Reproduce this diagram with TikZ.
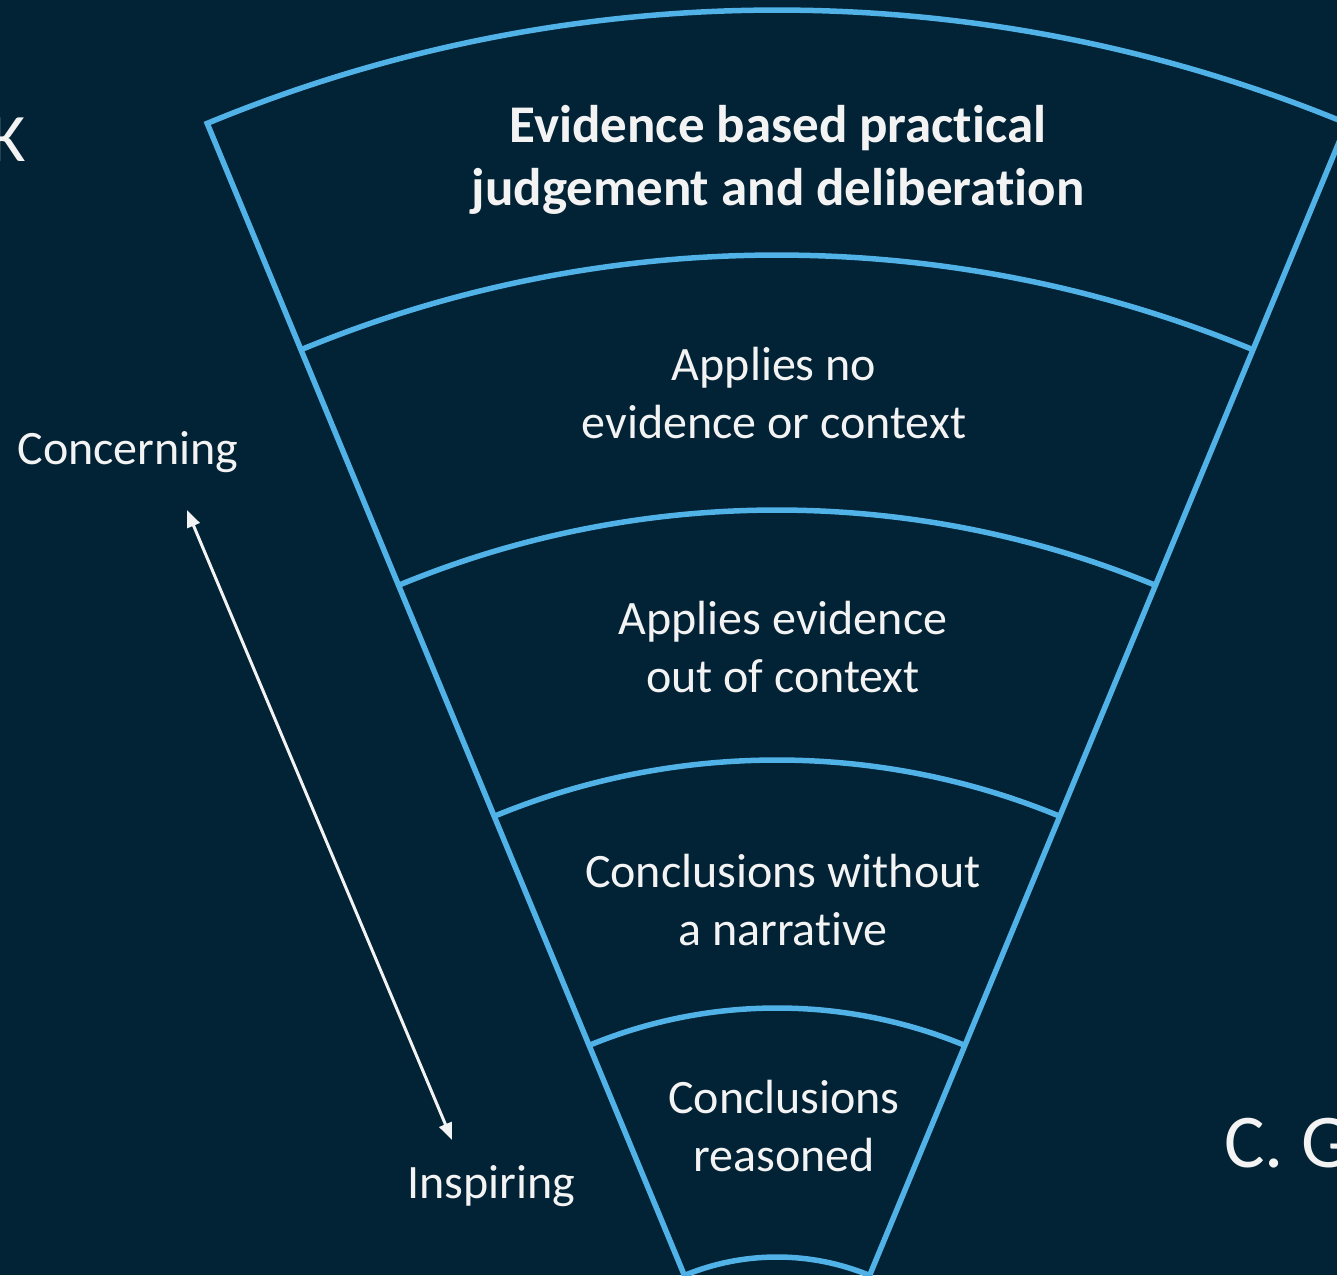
\documentclass[tikz,border=0pt]{standalone}
\usepackage{fontspec}
\setmainfont{Carlito}[Ligatures=NoCommon]
\usepackage{tikz}
\usetikzlibrary{arrows.meta}
\definecolor{slidebg}{RGB}{2,34,53}
\definecolor{fanblue}{RGB}{80,178,230}
\definecolor{slidetext}{RGB}{243,243,243}
\tikzset{>={Triangle[length=17pt,width=13pt]},
	band/.style={% outline of the fan and its rings
		draw=fanblue,
		line width=5.5pt,
		line join=miter
	},
	bandtext/.style={
		text=slidetext,
		align=center,
		inner sep=0pt,
		font=\fontsize{48}{57.5}\selectfont
	},
	sidetext/.style={
		text=slidetext,
		inner sep=0pt,
		font=\fontsize{48}{57.5}\selectfont
	}
}

\begin{document}
\begin{tikzpicture}[x=1pt,y=1pt]
	\useasboundingbox (-777,224) rectangle (560,1499);
	\fill[slidebg] (-777,224) rectangle (560,1499);
	\clip (-777,224) rectangle (560,1499);
	% the fan, apex at the origin
	\draw[band] (112.5:242pt) -- (112.5:1489pt)
		arc[start angle=112.5, end angle=67.5, radius=1489pt]
		-- (67.5:242pt)
		arc[start angle=67.5, end angle=112.5, radius=242pt] -- cycle;
	\foreach \r in {1244,989,739,491}
		\draw[band] (112.5:\r pt) arc[start angle=112.5, end angle=67.5, radius=\r pt];
	\node [bandtext, font=\fontsize{53}{63}\selectfont\bfseries] (judgement) at (1,1339) {Evidence based practical\\judgement and deliberation};
	\node [bandtext] (noevidence) at (-3,1106) {Applies no\\evidence or context};
	\node [bandtext] (outofcontext) at (6,852) {Applies evidence\\out of context};
	\node [bandtext] (nonarrative) at (6,599) {Conclusions without\\a narrative};
	\node [bandtext] (reasoned) at (7,373) {Conclusions\\reasoned};
	\node [sidetext] (concerning) at (-649,1047) {Concerning};
	\node [sidetext] (inspiring) at (-286,313) {Inspiring};
	\node [sidetext, anchor=base west, font=\fontsize{76}{90}\selectfont] (author) at (447,332) {C. G};
	\node [sidetext, anchor=base west, font=\fontsize{68}{80}\selectfont] (cutoff) at (-787,1337) {K};
	\coordinate (worse) at (-590,989);
	\coordinate (better) at (-325,359);
	\draw [<->, draw=slidetext, fill=slidetext, line width=3pt] (worse) -- (better);
\end{tikzpicture}
\end{document}
